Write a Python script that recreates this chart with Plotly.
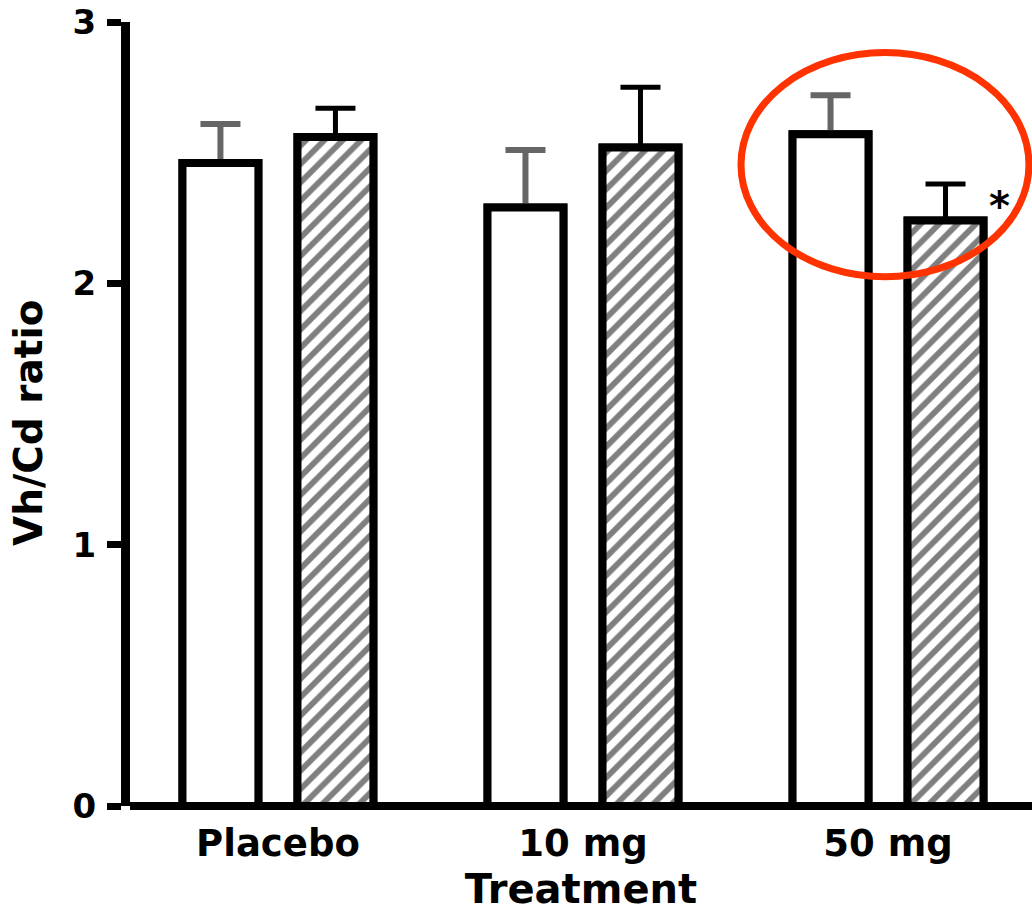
import plotly.graph_objects as go

# Vh/Cd ratio by treatment group (mean + SEM)
categories = ["Placebo", "10 mg", "50 mg"]
open_means = [2.46, 2.29, 2.57]
open_sem = [0.15, 0.22, 0.15]
hatched_means = [2.56, 2.52, 2.24]
hatched_sem = [0.11, 0.23, 0.14]
y_ticks = [0, 1, 2, 3]

FONT = "DejaVu Sans"
OUTLINE = dict(color="black", width=8)
HATCH = dict(shape="/", fgcolor="black", bgcolor="white", size=13, solidity=0.45)

fig = go.Figure()

# error-bar carriers (drawn first so the bar outlines sit on top of the lower caps)
fig.add_bar(
    x=categories, y=open_means, offsetgroup="open", showlegend=False,
    marker=dict(color="white", line=OUTLINE),
    error_y=dict(type="data", array=open_sem, symmetric=False, arrayminus=[0] * 3,
                 color="#666666", thickness=6, width=20),
)
fig.add_bar(
    x=categories, y=hatched_means, offsetgroup="hatched", showlegend=False,
    marker=dict(color="white", line=OUTLINE, pattern=HATCH),
    error_y=dict(type="data", array=hatched_sem, symmetric=False, arrayminus=[0] * 3,
                 color="black", thickness=5, width=20),
)
# visible bars
fig.add_bar(x=categories, y=open_means, offsetgroup="open", showlegend=False,
            marker=dict(color="white", line=OUTLINE))
fig.add_bar(x=categories, y=hatched_means, offsetgroup="hatched", showlegend=False,
            marker=dict(color="white", line=OUTLINE, pattern=HATCH))

# significance mark above the 50 mg hatched bar
fig.add_annotation(
    x=categories[2], y=hatched_means[2] + hatched_sem[2], text="*", showarrow=False,
    xshift=111, yshift=-22, font=dict(family=FONT, size=40, color="black", weight="bold"),
)

# red ellipse highlighting the 50 mg group
fig.add_shape(type="circle", xref="x", yref="y", x0=1.518, x1=2.462, y0=2.025, y1=2.883,
              line=dict(color="#ff3300", width=7), fillcolor="rgba(0,0,0,0)")

# y-axis title
fig.add_annotation(
    text="Vh/Cd ratio", textangle=-90, showarrow=False,
    xref="paper", yref="paper", x=0, y=0.5, xanchor="center", yanchor="middle",
    xshift=-102, yshift=-9, font=dict(family=FONT, size=39, color="black", weight="bold"),
)

fig.update_layout(
    width=1032, height=912,
    margin=dict(l=130, r=0, t=22, b=106),
    paper_bgcolor="white", plot_bgcolor="white",
    barmode="group", bargap=0.246, bargroupgap=0.34,
    font=dict(family=FONT, color="black"),
)
fig.update_xaxes(
    type="category", range=[-0.485, 2.472], showgrid=False, showline=False, ticks="",
    ticklabelstandoff=12,
    tickfont=dict(family=FONT, size=37, weight="bold"),
    title=dict(text="Treatment", font=dict(family=FONT, size=40, weight="bold"), standoff=16),
)
fig.update_yaxes(
    range=[0, 3], tickvals=y_ticks, showgrid=False,
    showline=True, linewidth=9, linecolor="black",
    zeroline=True, zerolinewidth=8, zerolinecolor="black",
    ticks="outside", ticklen=14, tickwidth=7, tickcolor="black",
    ticklabelstandoff=4,
    tickfont=dict(family=FONT, size=34, weight="bold"),
)

fig.write_html("out.html")
